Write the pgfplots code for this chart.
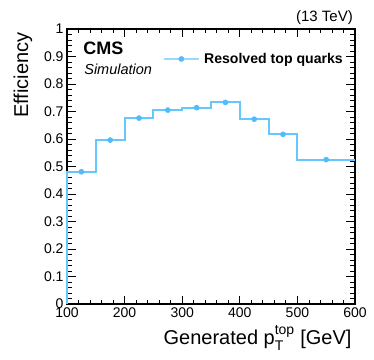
\documentclass[border=0pt]{standalone}
\usepackage{fontspec}
\setmainfont{Liberation Sans}
\usepackage{amsmath}
\usepackage{pgfplots}
\pgfplotsset{compat=1.18}

\definecolor{histblue}{RGB}{100,200,255}
\definecolor{markblue}{RGB}{80,188,250}
\definecolor{legblue}{RGB}{150,218,255}

\begin{document}
\begin{tikzpicture}
% fix the page to the reference's frame (axis box sits at the origin)
\path[use as bounding box] (-67pt,-55pt) rectangle (307pt,304pt);
\begin{axis}[
  scale only axis, width=288pt, height=275pt,
  xmin=100, xmax=600, ymin=0, ymax=1,
  xtick={100,200,300,400,500,600},
  ytick={0,0.1,0.2,0.3,0.4,0.5,0.6,0.7,0.8,0.9,1},
  minor x tick num=4, minor y tick num=4,
  tick align=inside,
  major tick length=8.5pt, minor tick length=4.5pt,
  every tick/.style={black, line width=0.8pt},
  axis line style={line width=1.4pt},
  tick label style={font=\fontsize{14}{16}\selectfont},
  /pgf/number format/.cd, fixed, precision=1, assume math mode=true, /pgfplots/.cd,
  xlabel={Generated $\text{p}_{\text{T}}^{\text{top}}$ [GeV]},
  ylabel={Efficiency},
  label style={font=\fontsize{20}{24}\selectfont},
  xlabel style={at={(axis description cs:1,-0.149)}, anchor=base east},
  ylabel style={at={(axis description cs:-0.135,1)}, anchor=base east},
  clip=false,
  legend style={at={(0.333,0.891)}, anchor=west, draw=none, fill=none,
    inner sep=0pt, font=\bfseries\fontsize{14.1}{16}\selectfont,
    /tikz/every odd column/.append style={column sep=2.5pt}},
  legend image code/.code={
    \draw[legblue, line width=1.5pt] (0pt,0pt) -- (35pt,0pt);
    \fill[markblue] (17.5pt,0pt) circle (2.6pt);},
]
\addplot[histblue, line width=2pt, const plot, forget plot] coordinates {
  (100,0)(100,0.481)(150,0.596)(200,0.676)(250,0.705)(300,0.714)
  (350,0.733)(400,0.672)(450,0.617)(500,0.525)(600,0.525)};
\addplot[only marks, mark=*, mark size=2.6pt, markblue] coordinates {
  (125,0.481)(175,0.596)(225,0.676)(275,0.705)(325,0.714)
  (375,0.733)(425,0.672)(475,0.617)(550,0.525)};
\addlegendentry{Resolved top quarks}

\node[anchor=base west, font=\bfseries\fontsize{18}{20}\selectfont]
  at (rel axis cs:0.045,0.909) {CMS};
\node[anchor=base west, font=\itshape\fontsize{14.5}{17}\selectfont]
  at (rel axis cs:0.048,0.833) {Simulation};
\node[anchor=base east, font=\fontsize{15}{18}\selectfont, inner xsep=0pt]
  at (rel axis cs:0.993,1.0255) {(13 TeV)};
\end{axis}
\end{tikzpicture}
\end{document}
